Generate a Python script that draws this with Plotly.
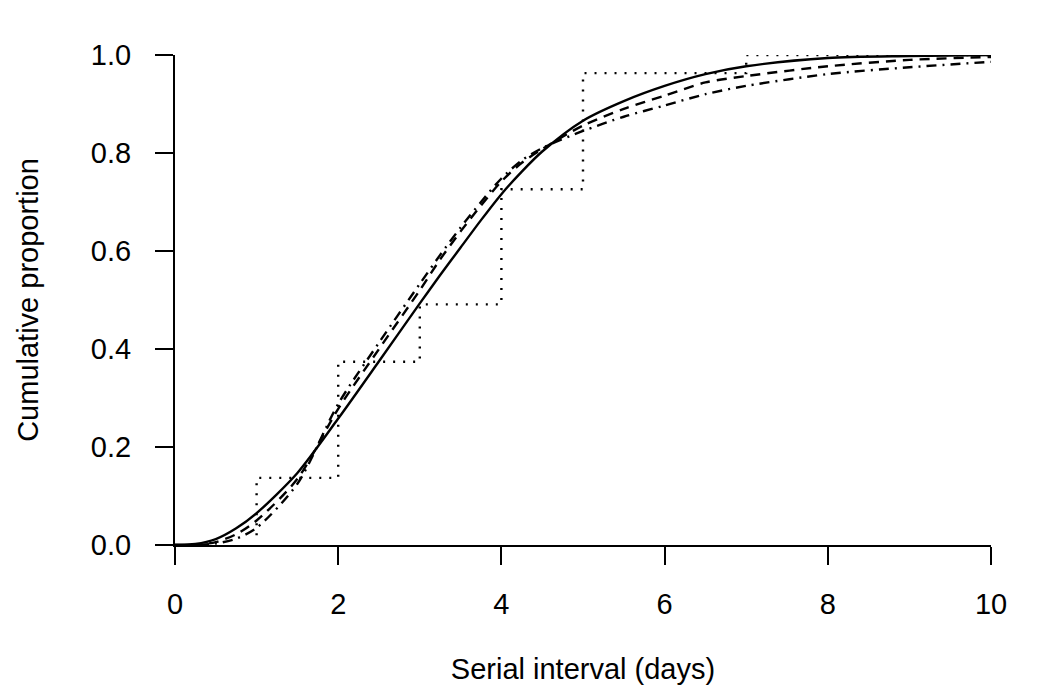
import plotly.graph_objects as go

# Grid of serial interval values (days) at which the curves were read
x_days = [0, 0.25, 0.5, 0.75, 1, 1.5, 2, 2.5, 3, 3.25, 3.5, 3.75, 4, 4.25, 4.5, 5, 5.5, 6, 6.5, 7, 8, 9, 10]

# Fitted cumulative curves
solid_cdf = [0, 0.002, 0.012, 0.034, 0.065, 0.147, 0.258, 0.375, 0.493, 0.551, 0.607, 0.663, 0.716,
             0.762, 0.803, 0.866, 0.906, 0.937, 0.961, 0.977, 0.994, 0.998, 1.0]
dashed_cdf = [0, 0.0, 0.006, 0.022, 0.05, 0.135, 0.278, 0.40, 0.52, 0.583, 0.64, 0.693, 0.742,
              0.78, 0.808, 0.856, 0.89, 0.917, 0.944, 0.957, 0.977, 0.99, 0.996]
dashdot_cdf = [0, 0.0, 0.003, 0.013, 0.035, 0.125, 0.288, 0.413, 0.533, 0.592, 0.648, 0.70, 0.748,
               0.785, 0.81, 0.845, 0.874, 0.897, 0.92, 0.937, 0.961, 0.975, 0.986]

# Empirical cumulative proportion (step function)
ecdf_x = [1, 1, 2, 2, 3, 3, 4, 4, 5, 5, 7, 7, 10]
ecdf_y = [0.02, 0.137, 0.137, 0.374, 0.374, 0.491, 0.491, 0.726, 0.726, 0.963, 0.963, 1.0, 1.0]

x_ticks = [0, 2, 4, 6, 8, 10]
y_ticks = [0.0, 0.2, 0.4, 0.6, 0.8, 1.0]
y_tick_text = ["0.0", "0.2", "0.4", "0.6", "0.8", "1.0"]

font_family = "Liberation Sans, Arial, sans-serif"
fs = 29
lw = 2.4

fig = go.Figure()
fig.add_trace(go.Scatter(x=ecdf_x, y=ecdf_y, mode="lines",
                         line=dict(color="black", width=lw, dash="2px,8px"),
                         name="Observed"))
fig.add_trace(go.Scatter(x=x_days, y=dashdot_cdf, mode="lines",
                         line=dict(color="black", width=lw, dash="10px,6px,2px,6px",
                                   shape="spline", smoothing=0.8),
                         name="Dot-dash"))
fig.add_trace(go.Scatter(x=x_days, y=dashed_cdf, mode="lines",
                         line=dict(color="black", width=lw, dash="10px,7px",
                                   shape="spline", smoothing=0.8),
                         name="Dashed"))
fig.add_trace(go.Scatter(x=x_days, y=solid_cdf, mode="lines",
                         line=dict(color="black", width=lw, shape="spline", smoothing=0.8),
                         name="Solid"))

fig.update_layout(
    width=1050, height=700,
    margin=dict(l=167, r=67, t=47, b=163),
    paper_bgcolor="white", plot_bgcolor="white",
    showlegend=False,
    font=dict(family=font_family, size=fs, color="black"),
)
fig.update_xaxes(
    range=[0, 10], tickvals=x_ticks, showgrid=False, zeroline=False,
    showline=True, linecolor="black", linewidth=2,
    ticks="outside", ticklen=18, tickwidth=2, tickcolor="black",
    ticklabelstandoff=14,
    tickfont=dict(size=fs, family=font_family),
    title=dict(text="Serial interval (days)", font=dict(size=fs, family=font_family), standoff=40),
)
fig.update_yaxes(
    range=[0, 1], tickvals=y_ticks, ticktext=y_tick_text, showgrid=False, zeroline=False,
    showline=True, linecolor="black", linewidth=2,
    ticks="outside", ticklen=18, tickwidth=2, tickcolor="black",
    ticklabelstandoff=18,
    tickfont=dict(size=fs, family=font_family),
    title=dict(text="Cumulative proportion", font=dict(size=fs, family=font_family), standoff=44),
)

fig.write_html("out.html")
